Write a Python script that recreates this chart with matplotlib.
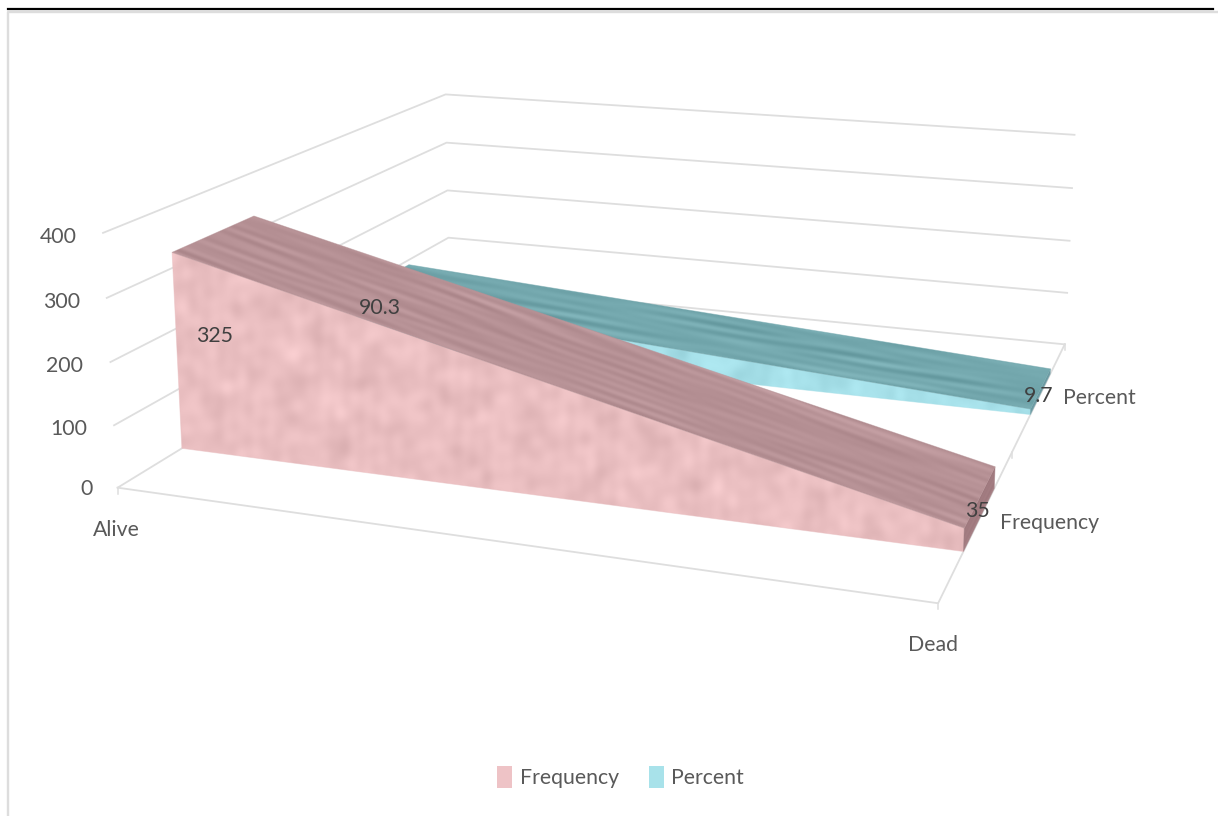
import matplotlib
matplotlib.use("Agg")
import matplotlib.pyplot as plt
from matplotlib.patches import Polygon, Patch
import numpy as np

categories = ["Alive", "Dead"]
series_names = ["Frequency", "Percent"]
frequency = [325, 35]
percent = [90.3, 9.7]
value_ticks = [0, 100, 200, 300, 400]

W, H = 1218, 816
TEXT = "#595959"
GRID = "#dedede"
plt.rcParams["font.family"] = ["Lato", "DejaVu Sans"]

# camera: (category 0-1, value, depth 0-1) -> pixel, fitted from the chart's box corners
calib = [
    (0, 0, 0, 118, 488), (0, 100, 0, 114, 426), (0, 200, 0, 110, 362),
    (0, 300, 0, 107, 297), (0, 400, 0, 103, 233), (0, 100, 1, 449, 237),
    (0, 200, 1, 447, 190), (0, 300, 1, 446, 143), (0, 400, 1, 446, 95),
    (1, 0, 1, 1065, 345), (1, 100, 1, 1067, 293), (1, 200, 1, 1069, 240),
    (1, 300, 1, 1072, 188), (1, 400, 1, 1075, 135), (1, 0, 0, 938, 603),
]
rows = []
for t, v, d, px, py in calib:
    p = [t, v / 100, d, 1]
    rows.append(p + [0, 0, 0, 0] + [-px * c for c in p])
    rows.append([0, 0, 0, 0] + p + [-py * c for c in p])
cam = np.linalg.svd(np.array(rows, float))[2][-1].reshape(3, 4)


def proj(t, v, d):
    q = cam @ np.array([t, v / 100, d, 1.0])
    return q[0] / q[2], q[1] / q[2]


yy, xx = np.mgrid[0:H, 0:W].astype(float)


def mottled():
    # soft marble look for the front faces
    out = np.zeros((H, W))
    for i in range(60):
        ang = i * 2.39996
        wave = 14 + (i * 11 % 67)
        out += np.sin((xx * np.cos(ang) + yy * np.sin(ang)) * 2 * np.pi / wave + i * 1.7)
    return out / out.std()


def streaks(slope):
    # wavy lengthwise bands for the sloped top faces
    u = yy - slope * xx
    out = np.zeros((H, W))
    for i in range(18):
        bend = 5 * np.sin(xx / (45 + 17 * i) + i) + 3 * np.sin(xx / (19 + 5 * i) + 2 * i)
        out += np.sin((u + bend) * (0.12 + 0.043 * i) + i * 2.1)
    return out / out.std()


def face(ax, pts, base, tex, amp, z):
    img = np.clip(np.array(matplotlib.colors.to_rgb(base))[None, None, :] + amp * tex[:, :, None], 0, 1)
    im = ax.imshow(img, extent=(0, W, H, 0), zorder=z, interpolation="bilinear", aspect="auto")
    clip = Polygon(pts, closed=True, transform=ax.transData)
    im.set_clip_path(clip)
    ax.add_patch(Polygon(pts, closed=True, fc="none", ec=base, lw=0.6, alpha=0.5, zorder=z))


def solid(ax, vals, d0, d1, colors, slope, z):
    front = [proj(0, 0, d0), proj(0, vals[0], d0), proj(1, vals[1], d0), proj(1, 0, d0)]
    top = [proj(0, vals[0], d0), proj(0, vals[0], d1), proj(1, vals[1], d1), proj(1, vals[1], d0)]
    side = [proj(1, 0, d0), proj(1, vals[1], d0), proj(1, vals[1], d1), proj(1, 0, d1)]
    face(ax, front, colors[0], mottled(), 0.016, z)
    face(ax, side, colors[2], streaks(-2), 0.01, z + 1)
    face(ax, top, colors[1], streaks(slope), 0.02, z + 2)


fig = plt.figure(figsize=(W / 100, H / 100), dpi=100)
ax = fig.add_axes([0, 0, 1, 1])
ax.set_xlim(0, W)
ax.set_ylim(H, 0)
ax.axis("off")

# page frame
ax.plot([7.5, 7.5, W], [H, 11.5, 11.5], color="#dddddd", lw=1.7, zorder=1)
ax.plot([8, 1213], [9, 9], color="black", lw=1.6, zorder=2)

# walls and floor
for v in value_ticks:
    pts = [proj(0, v, 0), proj(0, v, 1), proj(1, v, 1)]
    ax.plot(*zip(*pts), color=GRID, lw=1.3, zorder=2)
pts = [proj(0, 0, 0), proj(1, 0, 0), proj(1, 0, 1)]
ax.plot(*zip(*pts), color=GRID, lw=1.3, zorder=2)
for t, d in [(0, 0), (1, 0), (1, 0.5), (1, 1)]:
    x, y = proj(t, 0, d)
    ax.plot([x, x], [y, y + 6], color=GRID, lw=1.1, zorder=2)

pct_colors = ["#a6e0e9", "#74a8ae", "#6f9da5"]
frq_colors = ["#eabfc1", "#b69195", "#a17b80"]
solid(ax, percent, 0.655, 0.845, pct_colors, 0.175, 3)
solid(ax, frequency, 0.15, 0.36, frq_colors, 0.37, 7)

# axis text
fs = 15.3
tick_right = [93, 87, 83, 80, 77]
tick_y = [489, 429, 366, 302, 237]
for v, xr, yc in zip(value_ticks, tick_right, tick_y):
    ax.text(xr, yc, str(v), ha="right", va="center", fontsize=fs, color=TEXT, zorder=20)
ax.text(116, 530, categories[0], ha="center", va="center", fontsize=fs, color=TEXT, zorder=20)
ax.text(933, 645, categories[1], ha="center", va="center", fontsize=fs, color=TEXT, zorder=20)
ax.text(1000, 523, series_names[0], ha="left", va="center", fontsize=fs, color=TEXT, zorder=20)
ax.text(1063, 398, series_names[1], ha="left", va="center", fontsize=fs, color=TEXT, zorder=20)

# data labels
lab = "#404040"
ax.text(215, 336, str(frequency[0]), ha="center", va="center", fontsize=fs, color=lab, zorder=20)
ax.text(977, 511, str(frequency[1]), ha="center", va="center", fontsize=fs, color=lab, zorder=20)
ax.text(380, 308, str(percent[0]), ha="center", va="center", fontsize=fs, color=lab, zorder=20)
ax.text(1039, 396, str(percent[1]), ha="center", va="center", fontsize=fs, color=lab, zorder=20)

handles = [Patch(fc="#eec3c6", ec="none"), Patch(fc="#a8e2ea", ec="none")]
ax.legend(handles, series_names, loc="center", bbox_to_anchor=(620.5 / W, 1 - 777 / H),
          ncol=2, frameon=False, fontsize=fs, labelcolor=TEXT, handlelength=0.72,
          handleheight=1.2, handletextpad=0.35, columnspacing=1.4)

fig.savefig("out.png", dpi=100)
